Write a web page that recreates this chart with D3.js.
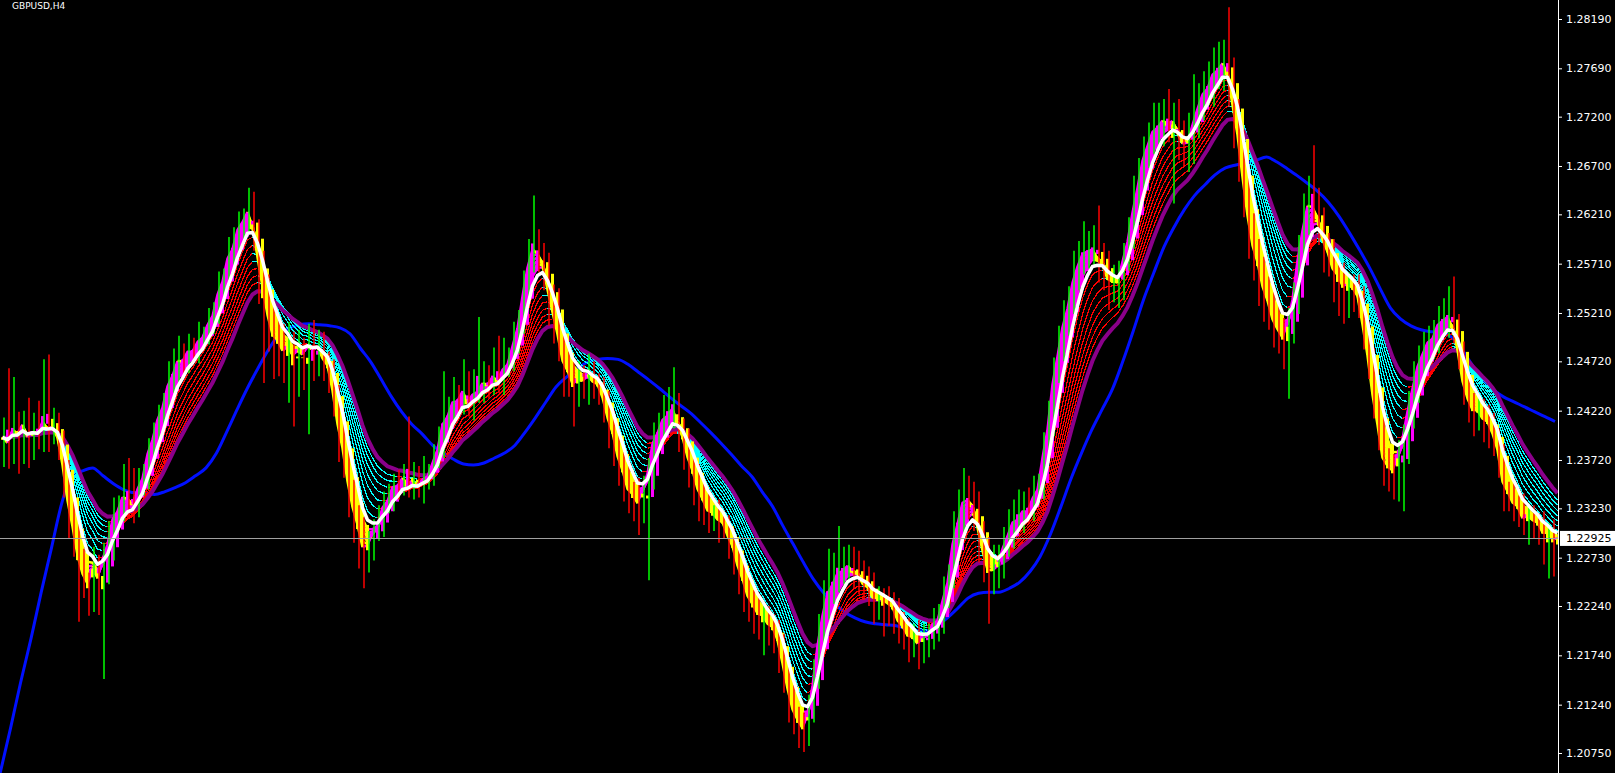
<!DOCTYPE html>
<html><head><meta charset="utf-8">
<script src="https://cdn.jsdelivr.net/npm/d3@7"></script>
<style>html,body{margin:0;padding:0;background:#000;overflow:hidden}svg{display:block}</style>
</head><body>
<svg id="c" width="1615" height="773"></svg>
<script>
// ---------------- DATA ----------------
const symbolLabel = "GBPUSD,H4";
const basePrice = 1.2;          // closes / wicks are pips above this base
const pip = 0.0001;
const tickValues = [1.28190,1.27690,1.27200,1.26700,1.26210,1.25710,1.25210,1.24720,1.24220,1.23720,1.23230,1.22730,1.22240,1.21740,1.21240,1.20750];
const lastPrice = 1.22925;

const closes = [
395,388,406,398,410,392,402,398,414,402,
405,392,360,322,298,268,252,244,266,250,
276,290,318,322,338,332,326,346,356,384,
396,418,428,452,460,476,472,484,482,494,
497,512,520,545,556,582,588,610,615,626,
604,570,540,512,494,492,480,488,476,484,
478,492,482,488,472,466,436,400,378,342,
318,302,278,286,302,308,328,332,348,346,
356,346,352,344,354,356,372,386,414,418,
434,432,444,428,440,442,452,448,458,452,
466,470,492,510,546,574,590,580,568,538,
516,494,466,460,446,454,452,460,450,448,
432,410,396,370,358,338,336,326,346,362,
396,402,416,418,426,404,392,370,358,338,
330,318,318,310,308,292,282,260,248,230,
224,214,214,204,202,186,160,134,114,106,
98,118,150,194,222,242,248,260,260,266,
258,256,244,242,230,232,230,226,222,206,
202,192,192,184,194,196,208,210,234,252,
296,312,334,332,324,298,274,256,260,266,
286,298,312,312,322,320,336,344,382,410,
460,484,514,530,558,572,584,584,586,572,
568,552,552,552,578,598,630,654,682,694,
708,710,718,712,716,700,690,694,716,732,
746,750,766,768,776,760,724,694,648,610,
582,568,542,530,510,502,494,516,540,584,
612,636,628,614,590,580,562,558,546,550,
546,536,502,470,428,400,366,364,360,380,
398,428,450,472,482,494,496,512,514,518,
502,478,444,430,420,422,412,410,396,378,
342,338,326,324,310,316,310,308,296,298,
290,292.5];

const wickUp = [
20,70,50,15,12,25,18,30,60,65,
20,15,10,12,8,10,14,6,18,10,
12,20,16,14,30,36,32,18,12,10,
14,10,12,20,25,22,14,16,12,18,
10,14,12,18,10,16,20,14,12,22,
18,12,14,20,16,22,18,24,14,20,
12,18,22,16,14,10,8,12,10,14,
10,8,12,14,10,18,12,16,10,14,
12,60,18,14,22,12,16,20,48,18,
22,14,30,18,24,75,20,16,28,40,
30,16,20,14,18,22,50,16,12,14,
12,30,14,16,12,18,14,20,12,10,
8,10,12,8,10,14,12,18,10,12,
14,18,22,28,40,14,10,12,8,10,
12,10,8,14,10,8,10,6,12,8,
10,8,14,10,12,8,10,6,10,8,
10,16,20,22,28,40,30,45,24,20,
18,22,14,20,16,12,10,14,12,10,
12,10,14,18,12,10,14,16,20,14,
24,30,30,22,18,16,12,20,26,20,
18,24,20,30,18,22,20,14,18,22,
16,24,20,18,26,22,30,20,24,44,
20,16,18,22,14,20,30,24,18,20,
26,24,20,30,18,22,16,30,47,22,
20,26,24,28,22,55,20,14,12,10,
12,14,10,16,12,18,14,10,12,16,
30,24,55,20,14,12,16,10,14,12,
10,14,12,10,16,12,20,18,14,12,
10,14,22,16,20,14,18,16,22,30,
40,18,14,12,10,14,12,16,10,8,
10,8,12,10,14,12,10,8,12,10,
14,10];

const wickDn = [
30,25,20,40,30,28,20,15,18,22,
14,20,26,30,24,60,20,30,26,35,
100,30,20,16,12,14,18,12,10,14,
12,10,14,8,12,10,14,12,10,12,
10,8,12,10,14,8,12,10,14,12,
20,40,90,30,40,35,30,50,70,40,
35,80,30,25,20,26,20,30,24,28,
30,40,36,20,16,12,14,10,12,14,
10,12,14,10,16,12,10,8,12,14,
10,12,14,12,16,10,12,14,10,12,
14,10,8,12,10,14,12,18,24,30,
26,22,30,24,40,20,18,24,16,20,
22,26,30,24,28,20,26,30,18,96,
20,14,12,10,14,24,30,26,32,28,
24,20,18,22,16,20,26,24,30,22,
28,24,40,20,26,30,24,28,20,26,
22,16,12,10,14,12,16,10,14,12,
16,20,14,18,24,20,37,22,26,20,
22,25,20,24,18,22,16,20,14,12,
10,12,16,20,24,30,26,50,20,18,
14,12,16,10,14,12,10,8,12,10,
14,10,12,16,10,14,12,18,14,20,
24,28,20,26,18,14,12,16,10,14,
12,16,20,18,80,24,20,26,22,18,
16,14,20,18,22,30,36,40,30,34,
28,40,30,26,24,22,30,60,26,20,
14,12,16,24,28,22,30,40,36,30,
24,20,18,16,14,18,20,24,28,30,
60,30,24,20,22,18,20,16,14,18,
12,14,16,20,24,18,22,26,20,24,
22,18,16,20,14,24,18,22,30,44,
36,30];

// slow (blue) average: bar index / pips above base
const blueBars = [-0.5,1.6,3.6,5.7,7.7,9.8,11.9,13.9,16,18,20.1,22.2,24.2,26.3,28.3,30.4,32.5,34.5,36.6,38.6,40.7,42.8,44.8,46.9,48.9,51,53.1,55.1,57.2,59.2,61.3,63.4,65.4,67.5,69.5,71.6,73.7,75.7,77.8,79.8,81.9,84,86,88.1,90.1,92.2,94.2,96.3,98.4,100.4,102.5,104.5,106.6,108.7,110.7,112.8,114.8,116.9,119,121,123.1,125.1,127.2,129.3,131.3,133.4,135.4,137.5,139.6,141.6,143.7,145.7,147.8,149.9,151.9,154,156,158.1,160.2,162.2,164.3,166.3,168.4,170.5,172.5,174.6,176.6,178.7,180.8,182.8,184.9,186.9,189,191.1,193.1,195.2,197.2,199.3,201.4,203.4,205.5,207.5,209.6,211.7,213.7,215.8,217.8,219.9,222,224,226.1,228.1,230.2,232.3,234.3,236.4,238.4,240.5,242.5,244.6,246.7,248.7,250.8,252.8,254.9,257,259,261.1,263.1,265.2,267.3,269.3,271.4,273.4,275.5,277.6,279.6,281.7,283.7,285.8,287.9,289.9,292,294,296.1,298.2,300.2,302.3,304.3,306.4,308.5,310.5];
const blueVals = [54,100,146,191,237,283,329,356,361,364,356,348,342,339,339,337,340,344,349,356,364,379,400,423,444,464,483,498,505,509,510,509,508,506,500,485,471,454,436,421,408,398,387,379,373,368,367,369,374,379,387,400,415,431,446,456,464,471,474,475,474,469,461,453,445,436,428,420,410,400,389,378,366,355,340,325,306,287,268,251,237,227,218,212,208,206,205,204,201,199,199,204,212,222,232,237,238,238,242,248,259,274,297,325,353,379,402,423,444,471,502,533,561,588,608,626,640,651,661,668,671,673,676,679,674,667,660,652,644,633,619,603,585,567,546,526,515,508,504,502,501,496,483,468,453,443,436,431,426,421,416,411];

// moving average periods (bars)
const shortPeriods = [1.5,2,2.5,3,3.5,4];
const longPeriods = [6,7.5,9,10.5,12,13.5,15];
const whitePeriod = 5;
const purplePeriod = 17;

// ---------------- BUILD ----------------
const W = 1615, H = 773, plotW = 1558;
const svg = d3.select("#c");
svg.append("rect").attr("width",W).attr("height",H).attr("fill","#000");

const x = d3.scaleLinear().domain([-0.5, 311.1]).range([0, plotW]);
const y = d3.scaleLinear().domain([1.28190, 1.20750]).range([19, 753]);
const toP = v => basePrice + v * pip;

const bars = closes.map((c, i) => {
  const close = toP(c);
  const open = i ? toP(closes[i-1]) : toP(c);
  const hi = Math.max(open, close) + (wickUp[i] || 0) * pip;
  const lo = Math.min(open, close) - (wickDn[i] || 0) * pip;
  return {i, open, close, hi, lo};
});
const closeP = bars.map(b => b.close);

// Heiken Ashi bodies
let prevO = null, prevC = null;
bars.forEach(b => {
  const hc = (b.open + b.hi + b.lo + b.close) / 4;
  const ho = prevO === null ? (b.open + b.close) / 2 : (prevO + prevC) / 2;
  b.haO = ho; b.haC = hc; prevO = ho; prevC = hc;
});

function ema(arr, n){
  const a = 2/(n+1); let e = arr[0];
  return arr.map((v,i) => (e = i ? a*v + (1-a)*e : v));
}

svg.append("defs").append("clipPath").attr("id","plot")
  .append("rect").attr("x",0).attr("y",0).attr("width",plotW).attr("height",H);
const g = svg.append("g").attr("clip-path","url(#plot)");

const line = d3.line().x(d => x(d[0])).y(d => y(d[1]));

// blue slow average
g.append("path")
  .datum(blueBars.map((b,k) => [b, toP(blueVals[k])]))
  .attr("d", d3.line().x(d=>x(d[0])).y(d=>y(d[1])).curve(d3.curveMonotoneX))
  .attr("fill","none").attr("stroke","#0010ff").attr("stroke-width",3);

function slopeLine(vals, upCol, dnCol, width, crisp){
  let runs = [], cur = null;
  for (let i = 1; i < vals.length; i++){
    const col = vals[i] >= vals[i-1] ? upCol : dnCol;
    if (!cur || cur.col !== col){ cur = {col, pts:[[i-1, vals[i-1]]]}; runs.push(cur); }
    cur.pts.push([i, vals[i]]);
  }
  runs.forEach(r => g.append("path").attr("d", line(r.pts))
    .attr("fill","none").attr("stroke", r.col).attr("stroke-width", width)
    .attr("stroke-linejoin","round")
    .attr("shape-rendering", crisp ? "crispEdges" : "auto"));
}

// long fan
longPeriods.slice().reverse().forEach(p => slopeLine(ema(closeP,p), "#ff0000", "#00ffff", 1.2, true));
// purple
g.append("path").attr("d", line(ema(closeP,purplePeriod).map((v,i)=>[i,v])))
  .attr("fill","none").attr("stroke","#8b008b").attr("stroke-width",4);
// short fan
shortPeriods.slice().reverse().forEach(p => slopeLine(ema(closeP,p), "#ff00ff", "#ffff00", 2.5, false));

// Heiken Ashi bodies
g.selectAll("line.ha").data(bars).enter().append("line")
  .attr("x1", d => x(d.i)).attr("x2", d => x(d.i))
  .attr("y1", d => y(d.haO)).attr("y2", d => y(d.haC))
  .attr("stroke", d => d.haC >= d.haO ? "#ff00ff" : "#ffff00")
  .attr("stroke-width", 3);

// price bars
g.selectAll("line.bar").data(bars).enter().append("line")
  .attr("x1", d => x(d.i) + 1.5).attr("x2", d => x(d.i) + 1.5)
  .attr("y1", d => y(d.hi)).attr("y2", d => y(d.lo))
  .attr("stroke", d => d.close >= d.open ? "#00ff00" : "#ff0000")
  .attr("stroke-width", 1.5);

// white average
g.append("path").attr("d", line(ema(closeP,whitePeriod).map((v,i)=>[i,v])))
  .attr("fill","none").attr("stroke","#ffffff").attr("stroke-width",3.5)
  .attr("stroke-linejoin","round");

// current price line
svg.append("line").attr("x1",0).attr("x2",plotW)
  .attr("y1", Math.round(y(lastPrice))+0.5).attr("y2", Math.round(y(lastPrice))+0.5)
  .attr("stroke","#a0a0a0").attr("stroke-width",1);

// axis
const axis = d3.axisRight(y).tickValues(tickValues).tickFormat(d3.format(".5f"))
  .tickSize(4).tickPadding(4);
const ag = svg.append("g").attr("transform",`translate(${plotW},0)`).call(axis);
ag.select(".domain").remove();
ag.selectAll("line").attr("stroke","#fff");
ag.selectAll("text").attr("fill","#fff").style("font-family","DejaVu Sans")
  .style("font-size","11px");
svg.append("line").attr("x1",plotW+0.5).attr("x2",plotW+0.5).attr("y1",0).attr("y2",H)
  .attr("stroke","#fff").attr("stroke-width",1);

// current price label
const ly = y(lastPrice);
svg.append("rect").attr("x",plotW+2).attr("y",ly-7.5).attr("width",W-plotW-2).attr("height",15).attr("fill","#fff");
svg.append("text").attr("x",plotW+8).attr("y",ly).attr("dy","0.35em")
  .attr("fill","#000").style("font-family","DejaVu Sans").style("font-size","11px")
  .text(d3.format(".5f")(lastPrice));

// symbol label (top-left corner)
svg.append("text").attr("x",12).attr("y",9).attr("fill","#fff")
  .style("font-family","DejaVu Sans").style("font-size","9px").text(symbolLabel);
</script>
</body></html>
